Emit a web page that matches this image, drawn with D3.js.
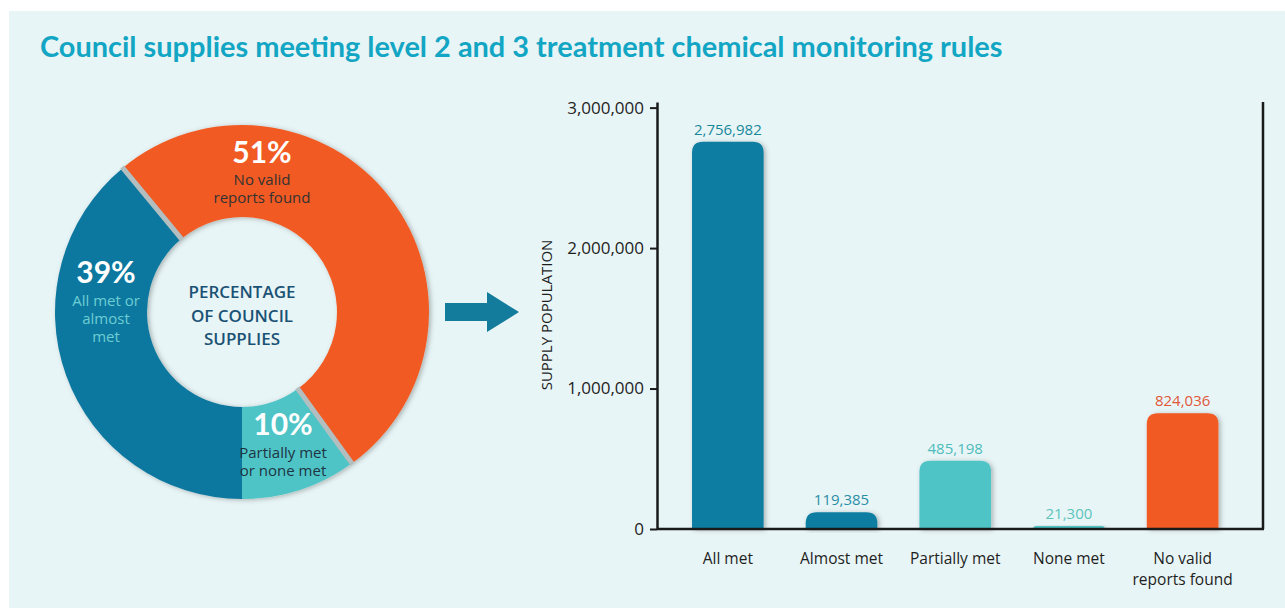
<!DOCTYPE html>
<html>
<head>
<meta charset="utf-8">
<script src="https://cdn.jsdelivr.net/npm/d3@7"></script>
<style>
  body { margin: 0; background: #ffffff; }
  svg { display: block; font-family: "Open Sans", Lato, sans-serif; }
</style>
</head>
<body>
<svg id="chart" width="1285" height="608"></svg>
<script>
// donut data (percentage of council supplies)
var donutNames = ["All met or almost met", "No valid reports found", "Partially met or none met"];
var donutValues = [39, 51, 10];
var donutColors = ["#10789f", "#f15a22", "#4fc4c6"];

// bar data (supply population)
var categories = ["All met", "Almost met", "Partially met", "None met", "No valid reports found"];
var population = [2756982, 119385, 485198, 21300, 824036];
var barColors = ["#0f7ea2", "#0f7ea2", "#4fc4c6", "#4fc4c6", "#f15a22"];
var labelColors = ["#17889a", "#2a8da6", "#4dbcbb", "#5cc4bd", "#e0573a"];
var yTicks = [0, 1000000, 2000000, 3000000];

var svg = d3.select("#chart");

// panel background
svg.append("rect")
  .attr("x", 9).attr("y", 11)
  .attr("width", 1276).attr("height", 597)
  .attr("fill", "#e8f5f6");

var defs = svg.append("defs");
var shadow = defs.append("filter").attr("id", "shadow")
  .attr("x", "-20%").attr("y", "-20%").attr("width", "140%").attr("height", "140%");
shadow.append("feDropShadow")
  .attr("dx", 2).attr("dy", 1).attr("stdDeviation", 2.5)
  .attr("flood-color", "#000").attr("flood-opacity", 0.28);

// title
var title = svg.append("text")
  .attr("x", 40).attr("y", 57)
  .attr("fill", "#12a6c4")
  .style("font-family", "Lato, sans-serif")
  .style("font-weight", 700)
  .style("font-size", "27px")
  .text("Council supplies meeting level 2 and 3 treatment chemical monitoring rules");
var tw = title.node().getComputedTextLength();
title.style("font-size", (27 * 963 / tw) + "px");

// ---- donut ----
var cx = 242, cy = 312;
var outerR = 187, innerR = 95;

var pie = d3.pie().sort(null).startAngle(Math.PI).endAngle(3 * Math.PI);
var arcs = pie(donutValues);
var arc = d3.arc().innerRadius(innerR).outerRadius(outerR);

var donut = svg.append("g").attr("transform", `translate(${cx},${cy})`);

donut.append("g").attr("filter", "url(#shadow)")
  .selectAll("path")
  .data(arcs)
  .enter()
  .append("path")
  .attr("d", arc)
  .attr("fill", function(d, i) { return donutColors[i]; });

// grey seams either side of the orange slice
var seams = [arcs[1].startAngle, arcs[1].endAngle];
donut.selectAll(".seam")
  .data(seams)
  .enter()
  .append("line")
  .attr("class", "seam")
  .attr("x1", function(a) { return Math.sin(a) * (innerR - 1); })
  .attr("y1", function(a) { return -Math.cos(a) * (innerR - 1); })
  .attr("x2", function(a) { return Math.sin(a) * (outerR + 1); })
  .attr("y2", function(a) { return -Math.cos(a) * (outerR + 1); })
  .attr("stroke", "#b3bec0")
  .attr("stroke-width", 5);

// centre text
var centreLines = ["PERCENTAGE", "OF COUNCIL", "SUPPLIES"];
donut.selectAll(".centre")
  .data(centreLines)
  .enter()
  .append("text")
  .attr("class", "centre")
  .attr("x", 0)
  .attr("y", function(d, i) { return -14 + i * 23.5; })
  .attr("text-anchor", "middle")
  .attr("fill", "#1a5275")
  .style("font-size", "17px")
  .style("font-weight", 600)
  .text(function(d) { return d; });

// slice labels
var sliceLabels = [
  { pct: donutValues[0] + "%", x: 106 - cx, y: 283 - cy, dy: 23, lines: ["All met or", "almost", "met"], col: "#6ccdd3", lh: 18 },
  { pct: donutValues[1] + "%", x: 262 - cx, y: 163 - cy, dy: 22, lines: ["No valid", "reports found"], col: "#333333", lh: 18 },
  { pct: donutValues[2] + "%", x: 283 - cx, y: 435 - cy, dy: 23, lines: ["Partially met", "or none met"], col: "#1e3444", lh: 18 }
];

sliceLabels.forEach(function(s) {
  var g = donut.append("g").attr("transform", `translate(${s.x},${s.y})`);
  g.append("text")
    .attr("text-anchor", "middle")
    .attr("fill", "#ffffff")
    .style("font-family", "Lato, sans-serif")
    .style("font-size", "30px")
    .style("font-weight", 700)
    .text(s.pct);
  g.selectAll(".sub")
    .data(s.lines)
    .enter()
    .append("text")
    .attr("class", "sub")
    .attr("text-anchor", "middle")
    .attr("y", function(d, i) { return s.dy + i * s.lh; })
    .attr("fill", s.col)
    .style("font-size", "15px")
    .text(function(d) { return d; });
});

// arrow
svg.append("path")
  .attr("d", "M445,303 L487,303 L487,292 L519,312 L487,332 L487,321 L445,321 Z")
  .attr("fill", "#137c9c");

// ---- bar chart ----
var x0 = 657, x1 = 1263, yBase = 529, yTop = 102;

var xScale = d3.scaleBand()
  .domain(categories)
  .range([x0, x1])
  .paddingInner(0.37)
  .paddingOuter(0.35)
  .align(0.44);

var yScale = d3.scaleLinear()
  .domain([0, 3040000])
  .range([yBase, yTop]);

var bars = svg.append("g");

var radius = 11;
function barPath(d, i) {
  var x = xScale(categories[i]);
  var w = xScale.bandwidth();
  var y = yScale(d);
  var h = yBase - y;
  var r = Math.min(radius, h);
  return `M${x},${yBase} L${x},${y + r} Q${x},${y} ${x + r},${y} L${x + w - r},${y} Q${x + w},${y} ${x + w},${y + r} L${x + w},${yBase} Z`;
}

bars.selectAll(".bar")
  .data(population)
  .enter()
  .append("path")
  .attr("class", "bar")
  .attr("d", barPath)
  .attr("fill", function(d, i) { return barColors[i]; })
  .attr("filter", "url(#shadow)");

bars.selectAll(".val")
  .data(population)
  .enter()
  .append("text")
  .attr("class", "val")
  .attr("x", function(d, i) { return xScale(categories[i]) + xScale.bandwidth() / 2; })
  .attr("y", function(d) { return yScale(d) - 7; })
  .attr("text-anchor", "middle")
  .attr("fill", function(d, i) { return labelColors[i]; })
  .style("font-size", "15px")
  .text(function(d) { return d3.format(",")(d); });

// category labels
var catG = svg.append("g");
categories.forEach(function(c, i) {
  var lines = c == "No valid reports found" ? ["No valid", "reports found"] : [c];
  catG.selectAll(".cat" + i)
    .data(lines)
    .enter()
    .append("text")
    .attr("x", xScale(c) + xScale.bandwidth() / 2)
    .attr("y", function(d, j) { return 564 + j * 21; })
    .attr("text-anchor", "middle")
    .attr("fill", "#1e1e1e")
    .style("font-size", "15.5px")
    .text(function(d) { return d; });
});

// y axis
var yAxis = d3.axisLeft(yScale)
  .tickValues(yTicks)
  .tickSize(7)
  .tickSizeOuter(0)
  .tickPadding(6)
  .tickFormat(d3.format(","));

var yG = svg.append("g")
  .attr("transform", `translate(${x0},0)`)
  .call(yAxis);
yG.select(".domain").attr("stroke", "#1a1a1a").attr("stroke-width", 2.5);
yG.selectAll(".tick line").attr("stroke", "#1a1a1a").attr("stroke-width", 2);
yG.selectAll(".tick text")
  .attr("fill", "#1e1e1e")
  .style("font-size", "17px")
  .style("font-family", "'Open Sans', sans-serif");

// baseline and right frame line
svg.append("line")
  .attr("x1", x0).attr("x2", x1 + 1)
  .attr("y1", yBase).attr("y2", yBase)
  .attr("stroke", "#1a1a1a").attr("stroke-width", 2.5);
svg.append("line")
  .attr("x1", x1).attr("x2", x1)
  .attr("y1", yTop).attr("y2", yBase)
  .attr("stroke", "#1a1a1a").attr("stroke-width", 2.5);

// y axis label
svg.append("text")
  .attr("transform", "translate(552,315) rotate(-90)")
  .attr("text-anchor", "middle")
  .attr("fill", "#1e1e1e")
  .style("font-size", "15px")
  .text("SUPPLY POPULATION");
</script>
</body>
</html>
